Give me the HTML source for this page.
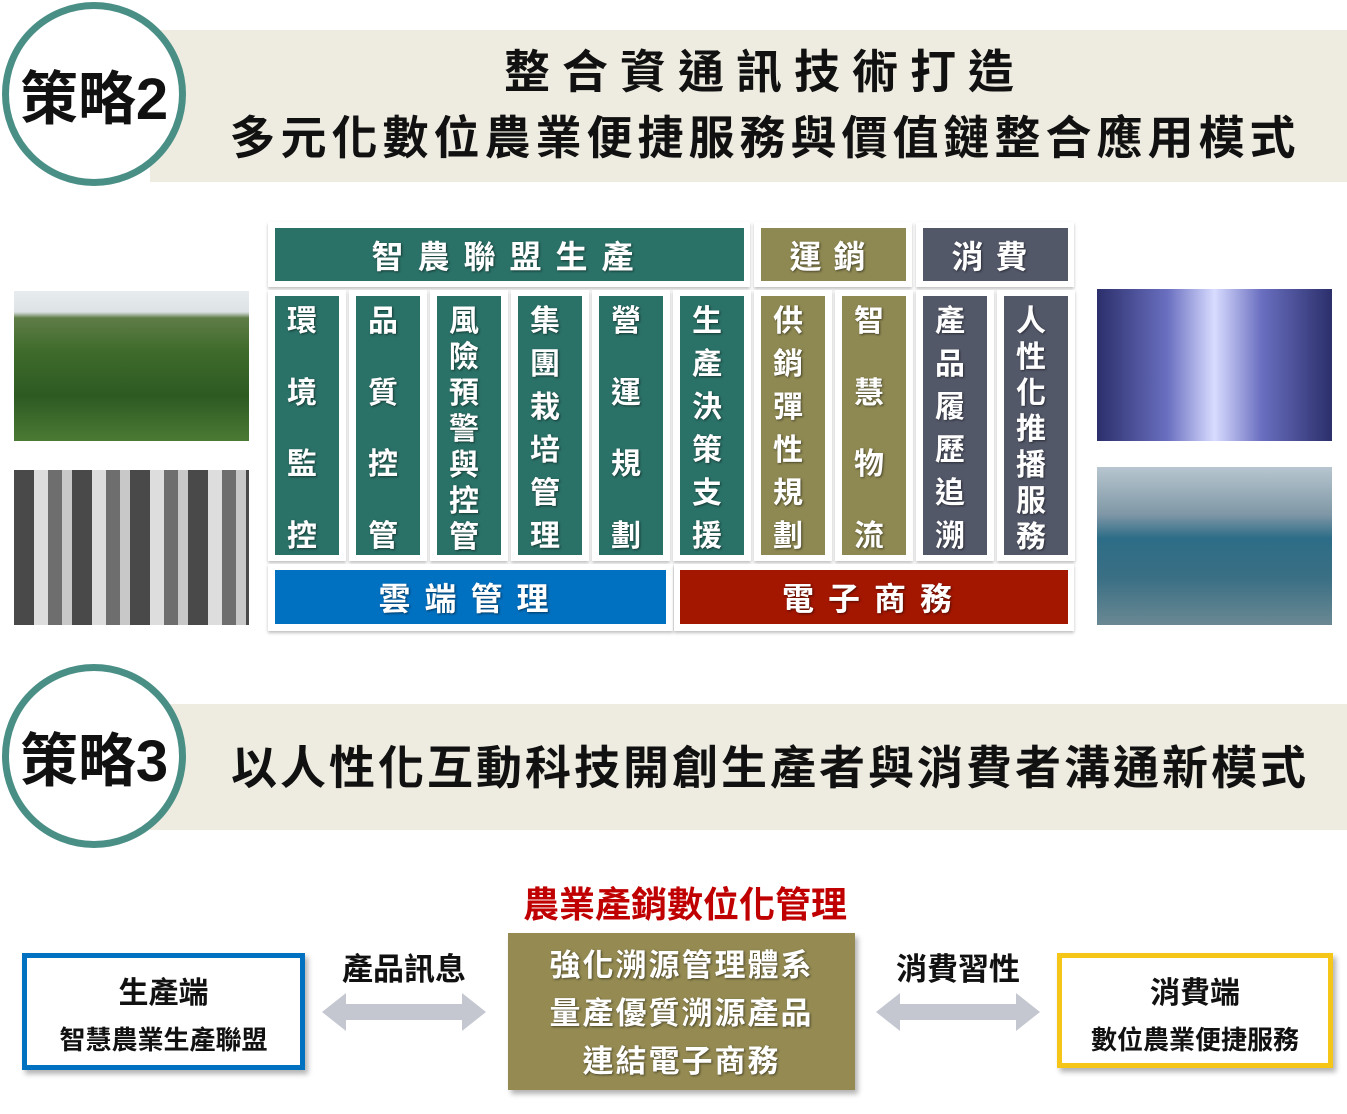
<!DOCTYPE html><html><head><meta charset="utf-8"><style>
body{margin:0;width:1347px;height:1114px;background:#fff;position:relative;overflow:hidden;font-family:"Liberation Sans","Noto Sans CJK TC",sans-serif}
.a{position:absolute}
.band{background:#eeece1}
.circ{position:absolute;border:7px solid #4a8f86;border-radius:50%;background:#fff;box-sizing:border-box;display:flex;align-items:center;justify-content:center;font-size:58px;font-weight:bold;color:#111}
.t{color:#111;font-weight:bold;text-align:center}
.cell{position:absolute;background:#fff;box-shadow:0 2px 3px rgba(0,0,0,.25)}
.box{position:absolute;color:#fff;font-weight:bold;display:flex;align-items:center;justify-content:center;text-shadow:1px 1px 2px rgba(0,0,0,.5)}
.col{position:absolute;color:#fff;font-weight:bold;font-size:30px;display:flex;flex-direction:column;align-items:center;justify-content:space-between;box-sizing:border-box;padding:8px 0 0;line-height:36px;text-shadow:1px 1px 2px rgba(0,0,0,.5)}
.g{background:#2a7167}.o{background:#8e8852}.s{background:#535869}
</style></head><body>
<div class="a band" style="left:150px;top:30px;width:1197px;height:152px"></div>
<div class="circ" style="left:2px;top:2px;width:184px;height:184px">策略2</div>
<div class="a t" style="left:200px;top:36px;width:1130px;font-size:46px;letter-spacing:12px">整合資通訊技術打造</div>
<div class="a t" style="left:190px;top:102px;width:1150px;font-size:46px;letter-spacing:5px">多元化數位農業便捷服務與價值鏈整合應用模式</div>

<div class="a band" style="left:150px;top:704px;width:1197px;height:126px"></div>
<div class="circ" style="left:2px;top:664px;width:184px;height:184px">策略3</div>
<div class="a t" style="left:200px;top:732px;width:1140px;font-size:46px;letter-spacing:3px">以人性化互動科技開創生產者與消費者溝通新模式</div>

<!-- photos -->
<div class="a" style="left:14px;top:291px;width:235px;height:150px;background:linear-gradient(#e8ecef 0,#dde3e4 14%,#5f7d47 18%,#3f6b2c 40%,#2d5a22 70%,#4b7a34 100%)"></div>
<div class="a" style="left:14px;top:470px;width:235px;height:155px;background:repeating-linear-gradient(90deg,#2a2a2a 0 20px,#d8d8d8 20px 34px,#555 34px 48px,#bfbfbf 48px 58px),#888;opacity:.85"></div>
<div class="a" style="left:1097px;top:289px;width:235px;height:152px;background:linear-gradient(90deg,#2b2f6b,#6a6fc0 30%,#d8dcff 50%,#6a6fc0 70%,#2b2f6b)"></div>
<div class="a" style="left:1097px;top:467px;width:235px;height:158px;background:linear-gradient(#b7c6cf 0,#7f97a6 30%,#2d6d87 45%,#3a6f84 70%,#6a8893 100%)"></div>

<!-- grid -->
<div class="cell" style="left:268px;top:222px;width:482px;height:65px"></div>
<div class="cell" style="left:754px;top:222px;width:158px;height:65px"></div>
<div class="cell" style="left:916px;top:222px;width:158px;height:65px"></div>
<div class="box g" style="left:275px;top:228px;width:469px;height:53px;font-size:32px;letter-spacing:14px">智農聯盟生產</div>
<div class="box o" style="left:761px;top:228px;width:145px;height:53px;font-size:32px;letter-spacing:12px">運銷</div>
<div class="box s" style="left:923px;top:228px;width:145px;height:53px;font-size:32px;letter-spacing:12px">消費</div>

<div class="cell" style="left:268px;top:290px;width:78px;height:271px"></div>
<div class="cell" style="left:349px;top:290px;width:78px;height:271px"></div>
<div class="cell" style="left:430px;top:290px;width:78px;height:271px"></div>
<div class="cell" style="left:511px;top:290px;width:78px;height:271px"></div>
<div class="cell" style="left:592px;top:290px;width:78px;height:271px"></div>
<div class="cell" style="left:673px;top:290px;width:78px;height:271px"></div>
<div class="cell" style="left:754px;top:290px;width:78px;height:271px"></div>
<div class="cell" style="left:835px;top:290px;width:78px;height:271px"></div>
<div class="cell" style="left:916px;top:290px;width:78px;height:271px"></div>
<div class="cell" style="left:997px;top:290px;width:78px;height:271px"></div>

<div class="col g" style="left:275px;top:296px;width:54px;height:259px"><span>環</span><span>境</span><span>監</span><span>控</span></div>
<div class="col g" style="left:356px;top:296px;width:54px;height:259px"><span>品</span><span>質</span><span>控</span><span>管</span></div>
<div class="col g" style="left:437px;top:296px;width:54px;height:259px;line-height:35px"><span>風</span><span>險</span><span>預</span><span>警</span><span>與</span><span>控</span><span>管</span></div>
<div class="col g" style="left:518px;top:296px;width:54px;height:259px"><span>集</span><span>團</span><span>栽</span><span>培</span><span>管</span><span>理</span></div>
<div class="col g" style="left:599px;top:296px;width:54px;height:259px"><span>營</span><span>運</span><span>規</span><span>劃</span></div>
<div class="col g" style="left:680px;top:296px;width:54px;height:259px"><span>生</span><span>產</span><span>決</span><span>策</span><span>支</span><span>援</span></div>
<div class="col o" style="left:761px;top:296px;width:54px;height:259px"><span>供</span><span>銷</span><span>彈</span><span>性</span><span>規</span><span>劃</span></div>
<div class="col o" style="left:842px;top:296px;width:54px;height:259px"><span>智</span><span>慧</span><span>物</span><span>流</span></div>
<div class="col s" style="left:923px;top:296px;width:54px;height:259px"><span>產</span><span>品</span><span>履</span><span>歷</span><span>追</span><span>溯</span></div>
<div class="col s" style="left:1004px;top:296px;width:54px;height:259px;line-height:35px"><span>人</span><span>性</span><span>化</span><span>推</span><span>播</span><span>服</span><span>務</span></div>
<div class="a g" style="left:329px;top:296px;width:10px;height:259px"></div>
<div class="a g" style="left:410px;top:296px;width:10px;height:259px"></div>
<div class="a g" style="left:491px;top:296px;width:10px;height:259px"></div>
<div class="a g" style="left:572px;top:296px;width:10px;height:259px"></div>
<div class="a g" style="left:653px;top:296px;width:10px;height:259px"></div>
<div class="a g" style="left:734px;top:296px;width:10px;height:259px"></div>
<div class="a o" style="left:815px;top:296px;width:10px;height:259px"></div>
<div class="a o" style="left:896px;top:296px;width:10px;height:259px"></div>
<div class="a s" style="left:977px;top:296px;width:10px;height:259px"></div>
<div class="a s" style="left:1058px;top:296px;width:10px;height:259px"></div>

<div class="cell" style="left:268px;top:564px;width:405px;height:67px"></div>
<div class="cell" style="left:674px;top:564px;width:400px;height:67px"></div>
<div class="box" style="left:275px;top:570px;width:391px;height:54px;background:#0070c0;font-size:32px;letter-spacing:14px">雲端管理</div>
<div class="box" style="left:680px;top:570px;width:388px;height:54px;background:#a31600;font-size:32px;letter-spacing:14px">電子商務</div>

<!-- bottom -->
<div class="a" style="left:480px;top:876px;width:410px;text-align:center;color:#c00000;font-weight:bold;font-size:36px">農業產銷數位化管理</div>
<div class="a" style="left:22px;top:953px;width:283px;height:117px;border:5px solid #0070c0;box-sizing:border-box;box-shadow:3px 4px 5px rgba(0,0,0,.3);background:#fff"></div>
<div class="a t" style="left:22px;top:968px;width:283px;font-size:30px">生產端</div>
<div class="a t" style="left:22px;top:1020px;width:283px;font-size:26px">智慧農業生產聯盟</div>
<div class="a" style="left:1057px;top:953px;width:276px;height:115px;border:5px solid #f5c518;box-sizing:border-box;box-shadow:3px 4px 5px rgba(0,0,0,.3);background:#fff"></div>
<div class="a t" style="left:1057px;top:968px;width:276px;font-size:30px">消費端</div>
<div class="a t" style="left:1057px;top:1020px;width:276px;font-size:26px">數位農業便捷服務</div>
<div class="a" style="left:508px;top:933px;width:347px;height:157px;background:#948a52;box-shadow:3px 4px 5px rgba(0,0,0,.3)"></div>
<div class="a" style="left:508px;top:942px;width:347px;text-align:center;color:#fff;font-weight:bold;font-size:31px;line-height:48px;letter-spacing:2px;text-shadow:1px 1px 2px rgba(0,0,0,.5)">強化溯源管理體系<br>量產優質溯源產品<br>連結電子商務</div>
<div class="a t" style="left:312px;top:944px;width:184px;font-size:31px">產品訊息</div>
<div class="a t" style="left:866px;top:944px;width:184px;font-size:31px">消費習性</div>
<svg class="a" style="left:0;top:0" width="1347" height="1114"><g fill="#c4c7d0">
<polygon points="322,1012 346,993 346,1004 462,1004 462,993 486,1012 462,1031 462,1020 346,1020 346,1031"/>
<polygon points="876,1012 900,993 900,1004 1016,1004 1016,993 1040,1012 1016,1031 1016,1020 900,1020 900,1031"/></g></svg>
</body></html>
